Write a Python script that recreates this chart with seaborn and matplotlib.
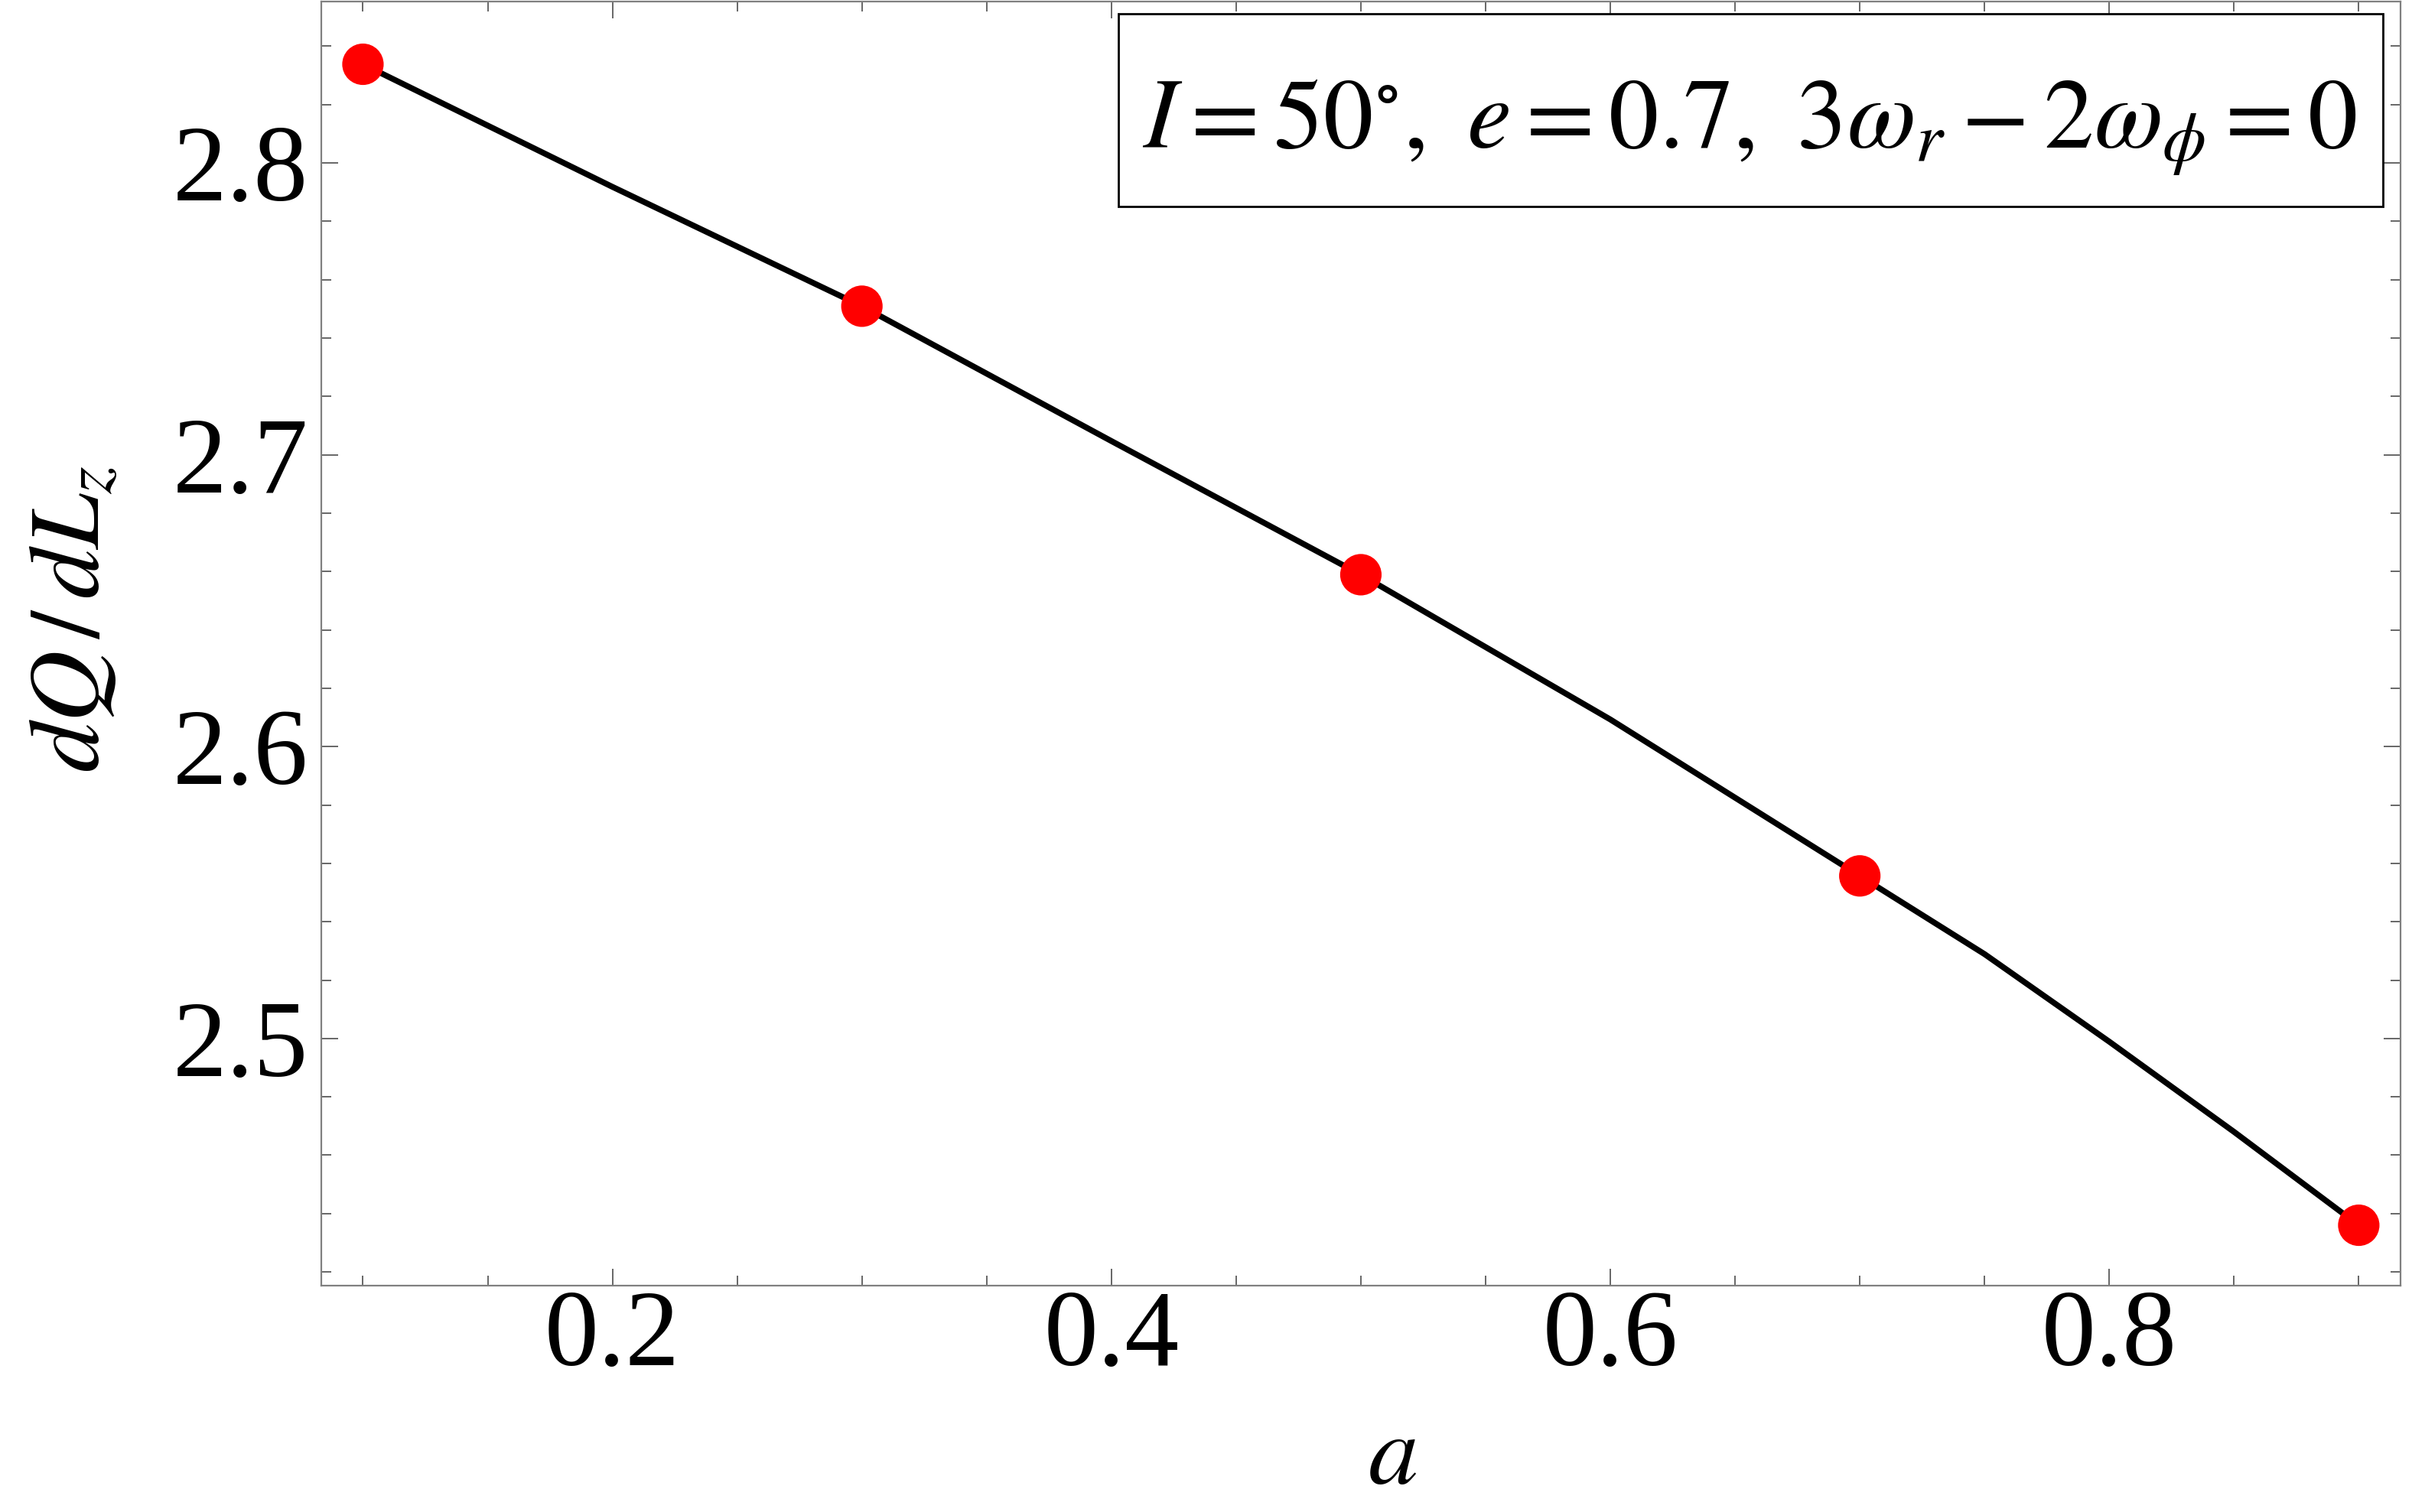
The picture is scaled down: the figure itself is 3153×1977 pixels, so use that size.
# dQ/dLz versus spin a for the I=50 deg, e=0.7 resonant orbit

import matplotlib
matplotlib.use('Agg')
import matplotlib.pyplot as plt
import seaborn as sns
from matplotlib.ticker import MultipleLocator
from matplotlib.patches import Rectangle

# red markers: computed values
point_a = [0.1, 0.3, 0.5, 0.7, 0.9]
point_q = [2.8338, 2.7509, 2.6589, 2.5557, 2.4360]

# black curve
curve_a = [0.1, 0.2, 0.3, 0.4, 0.5, 0.6, 0.7, 0.75, 0.8, 0.85, 0.9]
curve_q = [2.8338, 2.7918, 2.7509, 2.7047, 2.6589, 2.6093, 2.5557,
           2.5289, 2.4989, 2.4680, 2.4360]

x_label = r'$a$'
y_label = r'$dQ\,/\,dL_z$'
box_text = r'$I=50^{\circ},\ e=0.7,\ 3\omega_r-2\omega_\phi=0$'

sns.set_theme(style='ticks')
plt.rcParams['font.family'] = ['Liberation Serif', 'DejaVu Serif']
plt.rcParams['mathtext.fontset'] = 'stix'
plt.rcParams['text.color'] = 'black'
plt.rcParams['axes.labelcolor'] = 'black'

fig = plt.figure(figsize=(31.53, 19.77), dpi=100)
ax = fig.add_axes([0.1332, 0.1497, 0.862, 0.8493])

sns.lineplot(x=curve_a, y=curve_q, color='black', linewidth=5.5, sort=False,
             estimator=None, ax=ax, zorder=2)
for ln in ax.lines:
    ln.set_linewidth(5.5)
    ln.set_solid_joinstyle('round')
sns.scatterplot(x=point_a, y=point_q, color='#ff0000', s=1521,
                edgecolor='none', ax=ax, zorder=3)

ax.set_xlim(0.0833, 0.9167)
ax.set_ylim(2.4153, 2.8553)

ax.xaxis.set_major_locator(MultipleLocator(0.2))
ax.xaxis.set_minor_locator(MultipleLocator(0.05))
ax.yaxis.set_major_locator(MultipleLocator(0.1))
ax.yaxis.set_minor_locator(MultipleLocator(0.02))

for sp in ax.spines.values():
    sp.set_color('#808080')
    sp.set_linewidth(1.6)

ax.tick_params(which='both', direction='in', top=True, right=True,
               color='#666666', width=1.4, labelcolor='black')
ax.tick_params(which='major', length=15.8, labelsize=102)
ax.tick_params(axis='x', which='major', pad=4)
ax.tick_params(axis='y', which='major', pad=12)
ax.tick_params(which='minor', length=9.4)

ax.set_xlabel(x_label, fontsize=94)
ax.xaxis.label.set_va('baseline')
ax.xaxis.set_label_coords(0.515, -0.154)
ax.set_ylabel(y_label, fontsize=94)
ax.yaxis.label.set_va('center')
ax.yaxis.set_label_coords(-0.119, 0.519)

ax.add_patch(Rectangle((0.3834, 0.8404), 0.6081, 0.1501, transform=ax.transAxes,
                       facecolor='white', edgecolor='black', lw=2, zorder=4))
ax.text(0.687, 0.886, box_text, transform=ax.transAxes, ha='center',
        va='baseline', fontsize=94, zorder=5)

fig.savefig('out.png', dpi=100)
